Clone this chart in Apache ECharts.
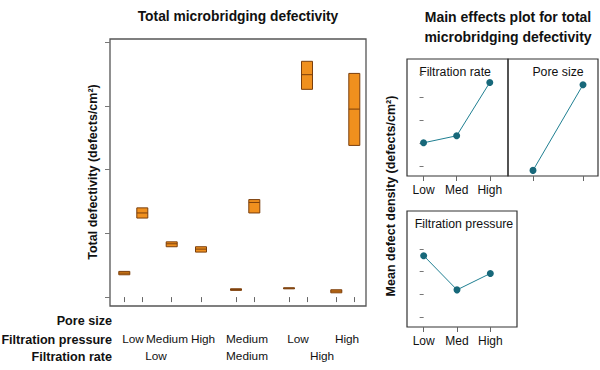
<!DOCTYPE html>
<html>
<head>
<meta charset="utf-8">
<script src="https://cdn.jsdelivr.net/npm/echarts@6/dist/echarts.min.js"></script>
<style>html,body{margin:0;padding:0;background:#fff}#c{width:600px;height:370px}</style>
</head>
<body>
<div id="c"></div>
<script>
// ---------------- DATA ----------------
const filtrationRate     = ['Low','Low','Low','Low','Medium','Medium','High','High','High','High'];
const filtrationPressure = ['Low','Low','Medium','High','Medium','Medium','Low','Low','High','High'];
const boxQ1     = [3.50, 12.4, 7.90, 7.06, 1.05, 13.2, 1.35, 32.6, 0.67, 23.8];
const boxMedian = [3.76, 13.2, 8.36, 7.53, 1.20, 14.85, 1.41, 34.9, 0.94, 29.5];
const boxQ3     = [4.03, 14.0, 8.67, 7.90, 1.30, 15.3, 1.45, 37.0, 1.15, 35.1];
const yTicks = [0, 10, 20, 30, 40];

const effectLevels = ['Low', 'Med', 'High'];
const rateMeans = [10.07, 11.6, 23.2];
const poreMeans = [4.07, 22.7];
const pressureMeans = [18.5, 11.0, 14.6];
const effectTicks = [5, 10, 15, 20, 25];

const pressureLabels = ['Low', 'Medium', 'High', 'Medium', 'Low', 'High'];
const rateLabels = ['Low', 'Medium', 'High'];

// ---------------- LAYOUT ----------------
const slotX = [14.3, 32.3, 61.7, 91, 126, 144.3, 179, 197, 226.3, 244.3];
const pressureLabelX = [23, 57, 93, 137, 188, 237];
const rateLabelX = [46, 137, 212];

const FONT = "'Liberation Sans', Arial, sans-serif";
const ORANGE = '#F0901E', BROWN = '#7a3e0c', TEAL = '#1f7f92', FRAME = '#555';

const chart = echarts.init(document.getElementById('c'), null, {renderer: 'svg'});

function labelAxis(values, labels, margin) {
  const map = {};
  values.forEach((v, i) => map[String(v)] = labels[i]);
  return {
    type: 'value', gridIndex: 0, min: 0, max: 256, position: 'bottom',
    axisLine: {show: false}, axisTick: {show: false}, splitLine: {show: false},
    axisLabel: {show: true, customValues: values, margin: margin, hideOverlap: false,
      showMinLabel: true, showMaxLabel: true,
      formatter: v => map[String(v)] || '', color: '#111',
      fontFamily: FONT, fontSize: 11.8}
  };
}

const boxData = slotX.map((x, i) => [x, boxQ1[i], boxMedian[i], boxQ3[i]]);

const option = {
  animation: false,
  grid: [
    {left: 110, top: 39, width: 256, height: 267, show: true, borderColor: FRAME, borderWidth: 1.3, containLabel: false},
    {left: 407, top: 59, width: 101, height: 117, show: true, borderColor: '#333', borderWidth: 1.2},
    {left: 508, top: 59, width: 90, height: 117, show: true, borderColor: '#333', borderWidth: 1.2},
    {left: 407, top: 211, width: 110, height: 116, show: true, borderColor: '#333', borderWidth: 1.2}
  ],
  xAxis: [
    {type: 'value', gridIndex: 0, min: 0, max: 256, position: 'bottom',
      axisLine: {show: false}, splitLine: {show: false},
      axisTick: {show: true, customValues: slotX, length: 5, lineStyle: {color: '#666'}},
      axisLabel: {show: false}},
    labelAxis(pressureLabelX, pressureLabels, 27),
    labelAxis(rateLabelX, rateLabels, 44),
    {type: 'value', gridIndex: 1, min: -0.5, max: 2.55,
      axisLine: {show: false}, splitLine: {show: false},
      axisTick: {show: true, customValues: [0, 1, 2], length: 5, lineStyle: {color: '#666'}},
      axisLabel: {show: true, customValues: [0, 1, 2], margin: 8, formatter: v => effectLevels[v], hideOverlap: false,
        color: '#111', fontFamily: FONT, fontSize: 12}},
    {type: 'value', gridIndex: 2, min: -0.5, max: 1.3,
      axisLine: {show: false}, splitLine: {show: false},
      axisTick: {show: true, customValues: [0, 1], length: 5, lineStyle: {color: '#666'}},
      axisLabel: {show: false}},
    {type: 'value', gridIndex: 3, min: -0.5, max: 2.8,
      axisLine: {show: false}, splitLine: {show: false},
      axisTick: {show: true, customValues: [0, 1, 2], length: 5, lineStyle: {color: '#666'}},
      axisLabel: {show: true, customValues: [0, 1, 2], margin: 8, formatter: v => effectLevels[v], hideOverlap: false,
        color: '#111', fontFamily: FONT, fontSize: 12}}
  ],
  yAxis: [
    {type: 'value', gridIndex: 0, min: -1.4, max: 40.5,
      axisLine: {show: false}, splitLine: {show: false},
      axisTick: {show: true, customValues: yTicks, length: 5, lineStyle: {color: '#777'}},
      axisLabel: {show: false}},
    {type: 'value', gridIndex: 1, min: 2.85, max: 28.3,
      axisLine: {show: false}, splitLine: {show: false},
      axisTick: {show: true, customValues: effectTicks, length: 4, lineStyle: {color: '#777'}},
      axisLabel: {show: false}},
    {type: 'value', gridIndex: 2, min: 2.85, max: 28.3,
      axisLine: {show: false}, splitLine: {show: false},
      axisTick: {show: false}, axisLabel: {show: false}},
    {type: 'value', gridIndex: 3, min: 2.85, max: 28.3,
      axisLine: {show: false}, splitLine: {show: false},
      axisTick: {show: true, customValues: effectTicks, length: 4, lineStyle: {color: '#777'}},
      axisLabel: {show: false}}
  ],
  series: [
    {type: 'custom', xAxisIndex: 0, yAxisIndex: 0, data: boxData,
      encode: {x: 0, y: [1, 2, 3]},
      renderItem: function (params, api) {
        const x = api.value(0);
        const pLo = api.coord([x, api.value(1)]);
        const pMed = api.coord([x, api.value(2)]);
        const pHi = api.coord([x, api.value(3)]);
        const hw = 5.5;
        return {type: 'group', children: [
          {type: 'rect', shape: {x: pLo[0] - hw, y: pHi[1], width: hw * 2, height: Math.max(pLo[1] - pHi[1], 1)},
            style: {fill: ORANGE, stroke: BROWN, lineWidth: 1}},
          {type: 'line', shape: {x1: pLo[0] - hw, y1: pMed[1], x2: pLo[0] + hw, y2: pMed[1]},
            style: {stroke: BROWN, lineWidth: 1}}
        ]};
      }},
    {type: 'line', xAxisIndex: 3, yAxisIndex: 1, data: rateMeans.map((v, i) => [i, v]),
      symbol: 'circle', symbolSize: 7, lineStyle: {color: TEAL, width: 1}, itemStyle: {color: '#17687a'}},
    {type: 'line', xAxisIndex: 4, yAxisIndex: 2, data: poreMeans.map((v, i) => [i, v]),
      symbol: 'circle', symbolSize: 7, lineStyle: {color: TEAL, width: 1}, itemStyle: {color: '#17687a'}},
    {type: 'line', xAxisIndex: 5, yAxisIndex: 3, data: pressureMeans.map((v, i) => [i, v]),
      symbol: 'circle', symbolSize: 7, lineStyle: {color: TEAL, width: 1}, itemStyle: {color: '#17687a'}}
  ],
  graphic: [
    {type: 'text', x: 238, y: 16, style: {text: 'Total microbridging defectivity', align: 'center', verticalAlign: 'middle',
      font: 'bold 13.8px ' + FONT, fill: '#111'}},
    {type: 'text', x: 508, y: 27, style: {text: 'Main effects plot for total\nmicrobridging defectivity', align: 'center', verticalAlign: 'middle',
      font: 'bold 14px ' + FONT, lineHeight: 20, fill: '#111'}},
    {type: 'text', x: 112, y: 321, style: {text: 'Pore size', align: 'right', verticalAlign: 'middle', font: 'bold 12.6px ' + FONT, fill: '#111'}},
    {type: 'text', x: 112, y: 340, style: {text: 'Filtration pressure', align: 'right', verticalAlign: 'middle', font: 'bold 12.6px ' + FONT, fill: '#111'}},
    {type: 'text', x: 112, y: 357, style: {text: 'Filtration rate', align: 'right', verticalAlign: 'middle', font: 'bold 12.6px ' + FONT, fill: '#111'}},
    {type: 'text', x: 93, y: 172, rotation: Math.PI / 2, style: {text: 'Total defectivity (defects/cm²)', align: 'center', verticalAlign: 'middle', font: 'bold 12.5px ' + FONT, fill: '#111'}},
    {type: 'text', x: 391, y: 196, rotation: Math.PI / 2, style: {text: 'Mean defect density (defects/cm²)', align: 'center', verticalAlign: 'middle', font: 'bold 12.5px ' + FONT, fill: '#111'}},
    {type: 'text', x: 455, y: 72, style: {text: 'Filtration rate', align: 'center', verticalAlign: 'middle', font: '12.3px ' + FONT, fill: '#111'}},
    {type: 'text', x: 558, y: 72, style: {text: 'Pore size', align: 'center', verticalAlign: 'middle', font: '12.3px ' + FONT, fill: '#111'}},
    {type: 'text', x: 464, y: 224, style: {text: 'Filtration pressure', align: 'center', verticalAlign: 'middle', font: '12.3px ' + FONT, fill: '#111'}}
  ]
};
chart.setOption(option);
</script>
</body>
</html>
